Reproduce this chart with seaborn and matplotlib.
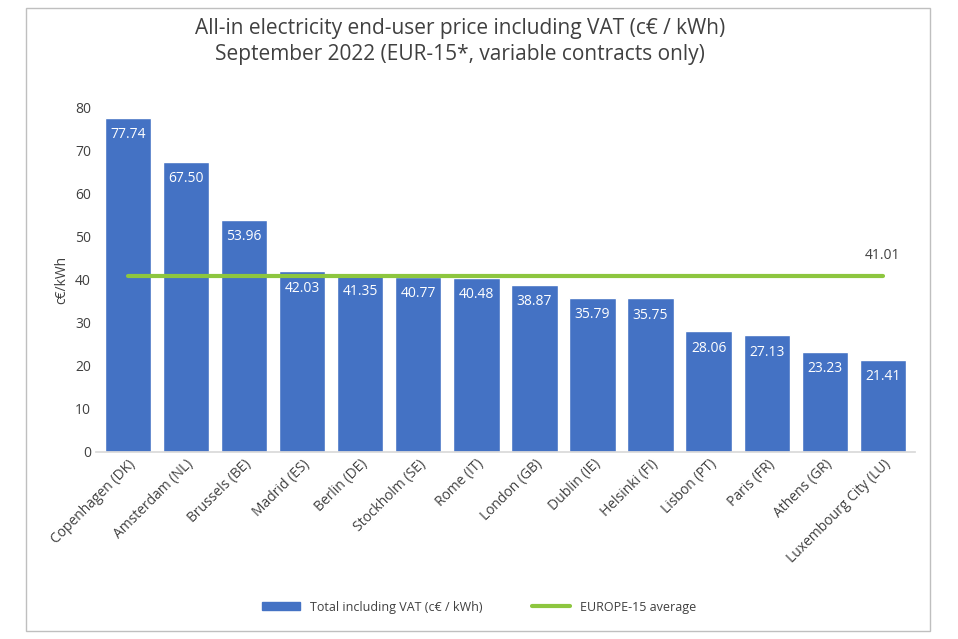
import matplotlib.pyplot as plt
import seaborn as sns
import pandas as pd
from matplotlib.patches import Rectangle
from matplotlib.lines import Line2D

cities = ["Copenhagen (DK)", "Amsterdam (NL)", "Brussels (BE)", "Madrid (ES)", "Berlin (DE)",
          "Stockholm (SE)", "Rome (IT)", "London (GB)", "Dublin (IE)", "Helsinki (FI)",
          "Lisbon (PT)", "Paris (FR)", "Athens (GR)", "Luxembourg City (LU)"]
prices = [77.74, 67.50, 53.96, 42.03, 41.35, 40.77, 40.48, 38.87, 35.79, 35.75,
          28.06, 27.13, 23.23, 21.41]
europe_avg = 41.01

BLUE = "#4472C4"
GREEN = "#8DC63F"

sns.set_theme(style="white")
plt.rcParams['font.family'] = ['Open Sans', 'DejaVu Sans']

df = pd.DataFrame({"city": cities, "price": prices})

fig = plt.figure(figsize=(9.58, 6.39), dpi=100)
fig.patches.append(Rectangle((0.027, 0.012), 0.944, 0.975, transform=fig.transFigure,
                             fill=False, edgecolor="#BFBFBF", linewidth=1))
ax = fig.add_axes([0.100, 0.293, 0.855, 0.538])

sns.barplot(data=df, x="city", y="price", color=BLUE, saturation=1, width=0.8, ax=ax)
ax.plot([0, len(cities) - 1], [europe_avg, europe_avg], color=GREEN, linewidth=3)

for i, v in enumerate(prices):
    ax.text(i, v - 2.2, f"{v:.2f}", ha="center", va="top", color="white", fontsize=10)
ax.text(len(cities) - 1, europe_avg + 3, f"{europe_avg:.2f}", ha="center", va="bottom",
        color="#404040", fontsize=10)

ax.set_ylim(0, 80)
ax.set_xlim(-0.55, len(cities) - 0.45)
ax.set_yticks(range(0, 81, 10))
ax.tick_params(axis="y", labelsize=10, colors="#404040", length=0)
ax.tick_params(axis="x", labelsize=10, colors="#404040", length=0)
ax.set_xticks(range(len(cities)))
ax.set_xticklabels(cities, rotation=45, ha="right", rotation_mode="anchor")
ax.set_xlabel("")
ax.set_ylabel("c€/kWh", fontsize=10, color="#404040")
for s in ["top", "right", "left"]:
    ax.spines[s].set_visible(False)
ax.spines["bottom"].set_color("#D9D9D9")

fig.text(0.48, 0.935, "All-in electricity end-user price including VAT (c€ / kWh)\n"
         "September 2022 (EUR-15*, variable contracts only)",
         ha="center", va="center", fontsize=15, color="#404040", linespacing=1.3)

handles = [Rectangle((0, 0), 1, 1, color=BLUE), Line2D([0], [0], color=GREEN, linewidth=3)]
fig.legend(handles, ["Total including VAT (c€ / kWh)", "EUROPE-15 average"],
           loc="center", bbox_to_anchor=(0.50, 0.05), ncol=2, frameon=False,
           fontsize=9, labelcolor="#404040", columnspacing=4, handlelength=3, handleheight=0.6)

fig.savefig("out.png", dpi=100)
